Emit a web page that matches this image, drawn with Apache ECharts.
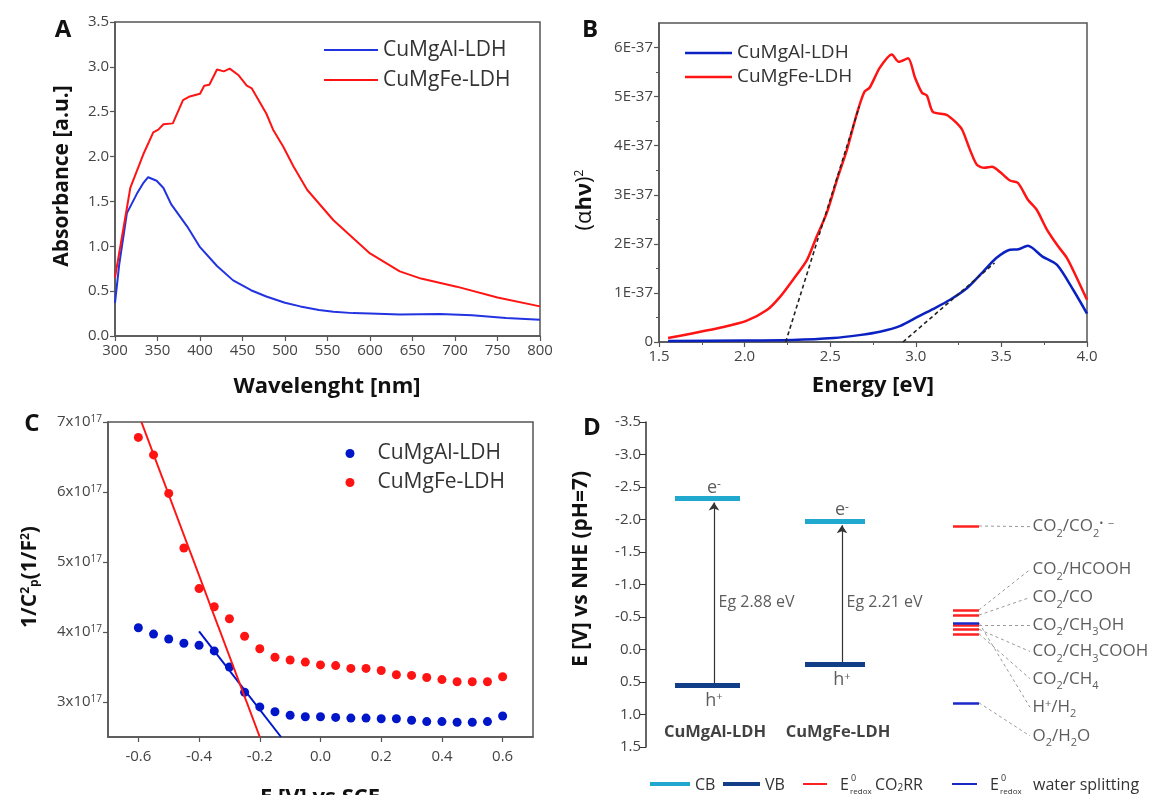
<!DOCTYPE html>
<html><head><meta charset="utf-8">
<script src="https://cdn.jsdelivr.net/npm/echarts@6/dist/echarts.min.js"></script>
<style>html,body{margin:0;padding:0;background:#fff}#c{width:1161px;height:795px}</style>
</head><body><div id="c"></div>
<script>
// ---------- Panel A : UV-Vis absorbance ----------
const aAlX = [300, 305, 314, 326, 333, 339, 344, 349, 357, 366, 385, 400, 420, 439, 460, 478, 500, 518, 540, 557, 580, 600, 635, 682, 720, 760, 800];
const aAlY = [0.37, 0.80, 1.37, 1.59, 1.70, 1.77, 1.75, 1.73, 1.65, 1.47, 1.22, 0.99, 0.78, 0.62, 0.51, 0.44, 0.37, 0.33, 0.29, 0.27, 0.255, 0.25, 0.24, 0.245, 0.23, 0.20, 0.18];
const aFeX = [300, 318, 334, 345, 351, 357, 368, 380, 388, 400, 405, 411, 420, 428, 435, 445, 455, 461, 478, 486, 498, 510, 526, 557, 600, 635, 660, 702, 750, 800];
const aFeY = [0.65, 1.65, 2.04, 2.27, 2.30, 2.36, 2.37, 2.63, 2.67, 2.70, 2.79, 2.80, 2.97, 2.95, 2.98, 2.91, 2.79, 2.76, 2.48, 2.30, 2.11, 1.89, 1.63, 1.29, 0.92, 0.72, 0.64, 0.55, 0.43, 0.33];

// ---------- Panel B : Tauc plot, (alpha h nu)^2 in units of 1E-37 ----------
const bFeX = [1.553, 1.70, 1.856, 2.01, 2.13, 2.207, 2.283, 2.364, 2.42, 2.48, 2.54, 2.598, 2.657, 2.70, 2.73, 2.79, 2.86, 2.90, 2.955, 2.995, 3.036, 3.065, 3.10, 3.18, 3.23, 3.27, 3.316, 3.357, 3.40, 3.445, 3.49, 3.55, 3.597, 3.655, 3.707, 3.766, 3.825, 3.883, 3.94, 4.0];
const bFeY = [0.08, 0.18, 0.29, 0.43, 0.65, 0.92, 1.27, 1.67, 2.14, 2.63, 3.31, 3.92, 4.67, 5.10, 5.18, 5.59, 5.86, 5.71, 5.78, 5.39, 5.08, 5.02, 4.69, 4.63, 4.49, 4.33, 3.92, 3.61, 3.55, 3.57, 3.47, 3.29, 3.24, 2.90, 2.69, 2.29, 1.98, 1.71, 1.31, 0.86];
const bAlX = [1.553, 2.0, 2.28, 2.52, 2.67, 2.79, 2.91, 3.01, 3.10, 3.20, 3.30, 3.39, 3.47, 3.55, 3.60, 3.655, 3.74, 3.825, 3.92, 4.0];
const bAlY = [0.02, 0.03, 0.04, 0.08, 0.14, 0.21, 0.33, 0.51, 0.67, 0.86, 1.10, 1.42, 1.71, 1.88, 1.89, 1.96, 1.74, 1.57, 1.06, 0.58];
const bFeTangent = [[2.24, 0], [2.67, 4.80]];
const bAlTangent = [[2.925, 0], [3.46, 1.61]];
const bYTicks = [0, 1, 2, 3, 4, 5, 6];

// ---------- Panel C : Mott-Schottky, 1/C^2 in units of 1e17 ----------
const cX = [-0.6, -0.55, -0.5, -0.45, -0.4, -0.35, -0.3, -0.25, -0.2, -0.15, -0.1, -0.05, 0.0, 0.05, 0.1, 0.15, 0.2, 0.25, 0.3, 0.35, 0.4, 0.45, 0.5, 0.55, 0.6];
const cFeY = [6.78, 6.53, 5.98, 5.20, 4.62, 4.36, 4.19, 3.94, 3.76, 3.64, 3.60, 3.57, 3.53, 3.52, 3.48, 3.48, 3.45, 3.39, 3.38, 3.35, 3.32, 3.29, 3.29, 3.29, 3.36];
const cAlY = [4.06, 3.97, 3.90, 3.84, 3.81, 3.73, 3.50, 3.14, 2.93, 2.86, 2.81, 2.79, 2.79, 2.78, 2.77, 2.77, 2.76, 2.76, 2.74, 2.72, 2.72, 2.71, 2.71, 2.72, 2.80];
const cFeFit = [[-0.59, 7.0], [-0.20, 2.5]];
const cAlFit = [[-0.40, 4.01], [-0.13, 2.5]];
const cXTicks = [-0.6, -0.4, -0.2, 0.0, 0.2, 0.4, 0.6];
const cYTicks = [3, 4, 5, 6, 7];

// ---------- Panel D : band diagram (E vs NHE, V) ----------
const dMaterials = ['CuMgAl-LDH', 'CuMgFe-LDH'];
const dCB = [-2.33, -1.98];
const dVB = [0.55, 0.23];
const dEg = [2.88, 2.21];
const redoxNames = ['CO{s|2}/CO{s|2}{p|•} {p|−}', 'CO{s|2}/HCOOH', 'CO{s|2}/CO', 'CO{s|2}/CH{s|3}OH', 'CO{s|2}/CH{s|3}COOH', 'CO{s|2}/CH{s|4}', 'H{p|+}/H{s|2}', 'O{s|2}/H{s|2}O'];
const redoxE     = [-1.90, -0.61, -0.53, -0.38, -0.31, -0.24, -0.41, 0.82];
const redoxKind  = ['co2', 'co2', 'co2', 'co2', 'co2', 'co2', 'water', 'water'];
const redoxLabelE = [-1.89, -1.23, -0.80, -0.38, 0.03, 0.45, 0.89, 1.33];

// layout (D x positions in px from axis)
const dBarL = [29, 159], dBarR = [94, 219], dArrowX = [68, 196], dNameX = [69, 192];
const dRedoxL = 307, dRedoxR = 333, dConnEnd = 384, dLabelX = 386;
const dEgLabelE = -0.72, dNameE = 1.28;

const FONT = "'Open Sans', 'DejaVu Sans', sans-serif";
const RED = '#ff1414', BLUE_A = '#2233e0', BLUE_B = '#0b22c2', BLUE_C = '#0016c8';
const CB_COL = '#20a8cf', VB_COL = '#123e88', RX_RED = '#ff2020', RX_BLUE = '#1a28c8';
const AX = '#555';

function vAxis(o) {
  const base = {
    type: 'value',
    axisLine: { show: true, onZero: false, lineStyle: { color: AX, width: 1.5 } },
    axisTick: { show: true, inside: false, length: 5, lineStyle: { color: AX, width: 1.2 } },
    axisLabel: { color: '#444', fontSize: 15, fontFamily: FONT, margin: 6 },
    splitLine: { show: false }
  };
  for (const k in o) {
    if (typeof o[k] === 'object' && base[k] && !Array.isArray(o[k])) base[k] = Object.assign({}, base[k], o[k]);
    else base[k] = o[k];
  }
  return base;
}
const zip = (xs, ys) => xs.map((x, i) => [x, ys[i]]);

const chart = echarts.init(document.getElementById('c'), null, { renderer: 'canvas' });

const supRich = { sup: { fontSize: 10, verticalAlign: 'top', fontFamily: FONT, color: '#444', padding: [0, 0, 6, 0] } };

const series = [
  // Panel A
  { name: 'A·CuMgAl-LDH', type: 'line', xAxisIndex: 0, yAxisIndex: 0, data: zip(aAlX, aAlY), symbol: 'none', lineStyle: { color: BLUE_A, width: 2 }, itemStyle: { color: BLUE_A } },
  { name: 'A·CuMgFe-LDH', type: 'line', xAxisIndex: 0, yAxisIndex: 0, data: zip(aFeX, aFeY), symbol: 'none', lineStyle: { color: RED, width: 2 }, itemStyle: { color: RED } },
  // Panel B
  { name: 'B·CuMgAl-LDH', type: 'line', xAxisIndex: 1, yAxisIndex: 1, data: zip(bAlX, bAlY), symbol: 'none', smooth: 0.25, lineStyle: { color: BLUE_B, width: 2.5 }, itemStyle: { color: BLUE_B } },
  { name: 'B·CuMgFe-LDH', type: 'line', xAxisIndex: 1, yAxisIndex: 1, data: zip(bFeX, bFeY), symbol: 'none', smooth: 0.25, lineStyle: { color: RED, width: 2.5 }, itemStyle: { color: RED } },
  { name: 'tanFe', type: 'line', xAxisIndex: 1, yAxisIndex: 1, data: bFeTangent, symbol: 'none', z: 5, lineStyle: { color: '#222', width: 1.6, type: [4, 3] } },
  { name: 'tanAl', type: 'line', xAxisIndex: 1, yAxisIndex: 1, data: bAlTangent, symbol: 'none', z: 5, lineStyle: { color: '#222', width: 1.6, type: [4, 3] } },
  // Panel C
  { name: 'C·CuMgAl-LDH', type: 'scatter', xAxisIndex: 2, yAxisIndex: 2, data: zip(cX, cAlY), symbol: 'circle', symbolSize: 9, itemStyle: { color: BLUE_C, opacity: 1 } },
  { name: 'C·CuMgFe-LDH', type: 'scatter', xAxisIndex: 2, yAxisIndex: 2, data: zip(cX, cFeY), symbol: 'circle', symbolSize: 9, itemStyle: { color: RED, opacity: 1 } },
  { name: 'fitAl', type: 'line', xAxisIndex: 2, yAxisIndex: 2, data: cAlFit, symbol: 'none', z: 4, lineStyle: { color: BLUE_C, width: 2 } },
  { name: 'fitFe', type: 'line', xAxisIndex: 2, yAxisIndex: 2, data: cFeFit, symbol: 'none', z: 4, lineStyle: { color: RED, width: 2 } },
  // Panel D arrows
  { name: 'gapArrow', type: 'lines', coordinateSystem: 'cartesian2d', xAxisIndex: 3, yAxisIndex: 3, z: 2,
    symbol: ['none', 'arrow'], symbolSize: 8, lineStyle: { color: '#333', width: 1.2, opacity: 1, curveness: 0 },
    data: dMaterials.map((m, i) => ({ coords: [[dArrowX[i], dVB[i]], [dArrowX[i], dCB[i] + 0.07]] })) },
  // CB / VB levels
  { name: 'CB', type: 'lines', coordinateSystem: 'cartesian2d', xAxisIndex: 3, yAxisIndex: 3, z: 3,
    lineStyle: { color: CB_COL, width: 5, opacity: 1, curveness: 0 },
    data: dMaterials.map((m, i) => ({ coords: [[dBarL[i], dCB[i]], [dBarR[i], dCB[i]]] })) },
  { name: 'VB', type: 'lines', coordinateSystem: 'cartesian2d', xAxisIndex: 3, yAxisIndex: 3, z: 3,
    lineStyle: { color: VB_COL, width: 5, opacity: 1, curveness: 0 },
    data: dMaterials.map((m, i) => ({ coords: [[dBarL[i], dVB[i]], [dBarR[i], dVB[i]]] })) },
  // redox connectors
  { name: 'conn', type: 'lines', coordinateSystem: 'cartesian2d', xAxisIndex: 3, yAxisIndex: 3, z: 2,
    lineStyle: { color: '#999', width: 1, type: [3, 3], opacity: 1, curveness: 0 },
    data: redoxE.map((e, i) => ({ coords: [[dRedoxR, e], [dConnEnd, redoxLabelE[i]]] })) },
  { name: 'redoxCO2', type: 'lines', coordinateSystem: 'cartesian2d', xAxisIndex: 3, yAxisIndex: 3, z: 3,
    lineStyle: { color: RX_RED, width: 2.5, opacity: 1, curveness: 0 },
    data: redoxE.map((e, i) => ({ e, k: redoxKind[i] })).filter(d => d.k === 'co2').map(d => ({ coords: [[dRedoxL, d.e], [dRedoxR, d.e]] })) },
  { name: 'redoxWater', type: 'lines', coordinateSystem: 'cartesian2d', xAxisIndex: 3, yAxisIndex: 3, z: 4,
    lineStyle: { color: RX_BLUE, width: 2.5, opacity: 1, curveness: 0 },
    data: redoxE.map((e, i) => ({ e, k: redoxKind[i] })).filter(d => d.k === 'water').map(d => ({ coords: [[dRedoxL, d.e], [dRedoxR, d.e]] })) },
  // redox labels
  { name: 'redoxLabels', type: 'scatter', xAxisIndex: 3, yAxisIndex: 3, symbolSize: 1, itemStyle: { color: 'rgba(0,0,0,0)' },
    data: redoxLabelE.map((e, i) => ({ value: [dLabelX, e], label: { formatter: redoxNames[i] } })),
    label: { show: true, position: 'right', distance: 0, color: '#333', fontSize: 17, fontFamily: FONT,
      rich: { s: { fontSize: 11, verticalAlign: 'bottom', fontFamily: FONT, color: '#333', padding: [0, 0, -4, 0] },
              p: { fontSize: 11, verticalAlign: 'top', fontFamily: FONT, color: '#333', padding: [0, 0, 6, 0] } } } },
  // e-, h+, Eg, names
  { name: 'eLabels', type: 'scatter', xAxisIndex: 3, yAxisIndex: 3, symbolSize: 1, itemStyle: { color: 'rgba(0,0,0,0)' },
    data: dMaterials.map((m, i) => [dArrowX[i], dCB[i]]),
    label: { show: true, position: 'top', distance: 1, formatter: 'e{sup|-}', color: '#333', fontSize: 18, fontFamily: FONT,
      rich: { sup: { fontSize: 12, verticalAlign: 'top', fontFamily: FONT, color: '#333', padding: [0, 0, 6, 0] } } } },
  { name: 'hLabels', type: 'scatter', xAxisIndex: 3, yAxisIndex: 3, symbolSize: 1, itemStyle: { color: 'rgba(0,0,0,0)' },
    data: dMaterials.map((m, i) => [dArrowX[i], dVB[i]]),
    label: { show: true, position: 'bottom', distance: 6, formatter: 'h{sup|+}', color: '#333', fontSize: 18, fontFamily: FONT,
      rich: { sup: { fontSize: 11, verticalAlign: 'top', fontFamily: FONT, color: '#333', padding: [0, 0, 6, 0] } } } },
  { name: 'egLabels', type: 'scatter', xAxisIndex: 3, yAxisIndex: 3, symbolSize: 1, itemStyle: { color: 'rgba(0,0,0,0)' },
    data: dMaterials.map((m, i) => ({ value: [dArrowX[i], dEgLabelE], label: { formatter: 'Eg ' + dEg[i].toFixed(2) + ' eV' } })),
    label: { show: true, position: 'right', distance: 4, color: '#333', fontSize: 16, fontFamily: FONT } },
  { name: 'nameLabels', type: 'scatter', xAxisIndex: 3, yAxisIndex: 3, symbolSize: 1, itemStyle: { color: 'rgba(0,0,0,0)' },
    data: dMaterials.map((m, i) => ({ value: [dNameX[i], dNameE], label: { formatter: m } })),
    label: { show: true, position: 'inside', color: '#111', fontSize: 16.5, fontWeight: 'bold', fontFamily: FONT } }
];

const legendBase = { orient: 'vertical', selectedMode: false, formatter: n => n.slice(2) };

const option = {
  animation: false,
  backgroundColor: '#fff',
  grid: [
    { left: 115, top: 22, width: 425, height: 314, show: true, borderColor: AX, borderWidth: 1.5 },
    { left: 659, top: 23, width: 428, height: 319, show: true, borderColor: AX, borderWidth: 1.5 },
    { left: 108, top: 422, width: 425, height: 315, show: true, borderColor: AX, borderWidth: 1.5 },
    { left: 646, top: 422, width: 500, height: 325, show: false }
  ],
  xAxis: [
    vAxis({ gridIndex: 0, min: 300, max: 800, interval: 50, axisLabel: { margin: 7 } }),
    vAxis({ gridIndex: 1, min: 1.5, max: 4.0, interval: 0.5, minorTick: { show: true, splitNumber: 2, length: 3, lineStyle: { color: AX } },
      axisLabel: { formatter: v => v.toFixed(1), margin: 7 } }),
    vAxis({ gridIndex: 2, min: -0.7, max: 0.7, axisTick: { customValues: cXTicks }, axisLabel: { customValues: cXTicks, formatter: v => v.toFixed(1), margin: 12 } }),
    { type: 'value', gridIndex: 3, min: 0, max: 500, show: false }
  ],
  yAxis: [
    vAxis({ gridIndex: 0, min: 0, max: 3.5, interval: 0.5, axisLabel: { formatter: v => v.toFixed(1) } }),
    vAxis({ gridIndex: 1, min: 0, max: 6.5, interval: 1, minorTick: { show: true, splitNumber: 2, length: 3, lineStyle: { color: AX } },
      axisTick: { customValues: bYTicks }, axisLabel: { customValues: bYTicks, formatter: v => v === 0 ? '0' : v + 'E-37' } }),
    vAxis({ gridIndex: 2, min: 2.5, max: 7, axisTick: { customValues: cYTicks },
      axisLabel: { customValues: cYTicks, formatter: v => v + 'x10{sup|17}', rich: supRich } }),
    vAxis({ gridIndex: 3, min: -3.5, max: 1.5, interval: 0.5, inverse: true,
      axisLine: { lineStyle: { color: '#333', width: 1.5 } }, axisTick: { length: 6, lineStyle: { color: '#333' } },
      axisLabel: { formatter: v => v.toFixed(1), margin: 5 } })
  ],
  legend: [
    Object.assign({}, legendBase, { left: 319, top: 34, itemWidth: 54, itemHeight: 2, itemGap: 8, icon: 'rect',
      data: ['A·CuMgAl-LDH', 'A·CuMgFe-LDH'], textStyle: { fontSize: 21, lineHeight: 22, color: '#333', fontFamily: FONT } }),
    Object.assign({}, legendBase, { left: 680, top: 38, itemWidth: 47, itemHeight: 2.5, itemGap: 4, icon: 'rect',
      data: ['B·CuMgAl-LDH', 'B·CuMgFe-LDH'], textStyle: { fontSize: 19, lineHeight: 20, color: '#333', fontFamily: FONT } }),
    Object.assign({}, legendBase, { left: 340.5, top: 438, itemWidth: 9, itemHeight: 9, itemGap: 8, icon: 'circle',
      formatter: n => '{g|}' + n.slice(2),
      data: ['C·CuMgAl-LDH', 'C·CuMgFe-LDH'], textStyle: { fontSize: 21, lineHeight: 21, color: '#333', fontFamily: FONT, rich: { g: { width: 18 } } } })
  ],
  series: series,
  graphic: [
    // panel letters
    { type: 'text', x: 63, y: 30, style: { text: 'A', font: `bold 24px ${FONT}`, fill: '#111', align: 'center', verticalAlign: 'middle' } },
    { type: 'text', x: 590, y: 30, style: { text: 'B', font: `bold 24px ${FONT}`, fill: '#111', align: 'center', verticalAlign: 'middle' } },
    { type: 'text', x: 32, y: 424, style: { text: 'C', font: `bold 24px ${FONT}`, fill: '#111', align: 'center', verticalAlign: 'middle' } },
    { type: 'text', x: 592, y: 428, style: { text: 'D', font: `bold 24px ${FONT}`, fill: '#111', align: 'center', verticalAlign: 'middle' } },
    // axis titles
    { type: 'text', x: 62, y: 176, rotation: Math.PI / 2, style: { text: 'Absorbance [a.u.]', font: `bold 21px ${FONT}`, fill: '#111', align: 'center', verticalAlign: 'middle' } },
    { type: 'text', x: 327, y: 387, style: { text: 'Wavelenght [nm]', font: `bold 22px ${FONT}`, fill: '#111', align: 'center', verticalAlign: 'middle' } },
    { type: 'text', x: 585, y: 200, rotation: Math.PI / 2, style: { text: '(α{h|hν}){t|2}', font: `22px ${FONT}`, fill: '#111', align: 'center', verticalAlign: 'middle',
      rich: { h: { fontSize: 22, fontWeight: 'bold', fontFamily: FONT, fill: '#111' }, t: { fontSize: 12, verticalAlign: 'top', fontFamily: FONT, fill: '#111' } } } },
    { type: 'text', x: 873, y: 386, style: { text: 'Energy [eV]', font: `bold 22px ${FONT}`, fill: '#111', align: 'center', verticalAlign: 'middle' } },
    { type: 'text', x: 30, y: 577, rotation: Math.PI / 2, style: { text: '1/C{t|2}{b|p}(1/F{t|2})', font: `bold 21px ${FONT}`, fill: '#111', align: 'center', verticalAlign: 'middle',
      rich: { t: { fontSize: 12, fontWeight: 'bold', verticalAlign: 'top', fontFamily: FONT, fill: '#111' }, b: { fontSize: 12, fontWeight: 'bold', verticalAlign: 'bottom', fontFamily: FONT, fill: '#111' } } } },
    { type: 'text', x: 320, y: 798, style: { text: 'E [V] vs SCE', font: `bold 22px ${FONT}`, fill: '#111', align: 'center', verticalAlign: 'middle' } },
    { type: 'text', x: 581, y: 569, rotation: Math.PI / 2, style: { text: 'E [V] vs NHE (pH=7)', font: `bold 21px ${FONT}`, fill: '#111', align: 'center', verticalAlign: 'middle' } },
    // D legend
    { type: 'line', shape: { x1: 650, y1: 784, x2: 690, y2: 784 }, style: { stroke: CB_COL, lineWidth: 4 } },
    { type: 'text', x: 695, y: 785, style: { text: 'CB', font: `16px ${FONT}`, fill: '#333', verticalAlign: 'middle' } },
    { type: 'line', shape: { x1: 723, y1: 784, x2: 760, y2: 784 }, style: { stroke: VB_COL, lineWidth: 4 } },
    { type: 'text', x: 765, y: 785, style: { text: 'VB', font: `16px ${FONT}`, fill: '#333', verticalAlign: 'middle' } },
    { type: 'line', shape: { x1: 803, y1: 784, x2: 827, y2: 784 }, style: { stroke: RX_RED, lineWidth: 2 } },
    { type: 'text', x: 840, y: 785, style: { text: 'E', font: `16px ${FONT}`, fill: '#333', verticalAlign: 'middle' } },
    { type: 'text', x: 851, y: 778, style: { text: '0', font: `9px ${FONT}`, fill: '#333', verticalAlign: 'middle' } },
    { type: 'text', x: 850, y: 792, style: { text: 'redox', font: `8px ${FONT}`, fill: '#333', verticalAlign: 'middle' } },
    { type: 'text', x: 875, y: 785, style: { text: 'CO{s|2}RR', font: `16px ${FONT}`, fill: '#333', verticalAlign: 'middle',
      rich: { s: { fontSize: 10, verticalAlign: 'bottom', fontFamily: FONT, fill: '#333' } } } },
    { type: 'line', shape: { x1: 952, y1: 784, x2: 977, y2: 784 }, style: { stroke: RX_BLUE, lineWidth: 2 } },
    { type: 'text', x: 990, y: 785, style: { text: 'E', font: `16px ${FONT}`, fill: '#333', verticalAlign: 'middle' } },
    { type: 'text', x: 1001, y: 778, style: { text: '0', font: `9px ${FONT}`, fill: '#333', verticalAlign: 'middle' } },
    { type: 'text', x: 1000, y: 792, style: { text: 'redox', font: `8px ${FONT}`, fill: '#333', verticalAlign: 'middle' } },
    { type: 'text', x: 1033, y: 785, style: { text: 'water splitting', font: `16px ${FONT}`, fill: '#333', verticalAlign: 'middle' } }
  ]
};
chart.setOption(option);
</script>
</body></html>
